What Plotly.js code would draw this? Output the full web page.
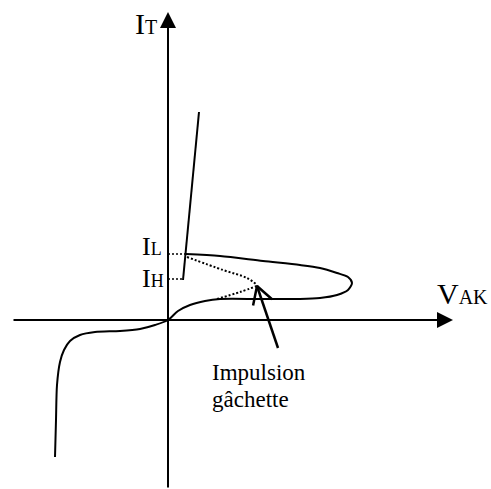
<!DOCTYPE html>
<html>
<head>
<meta charset="utf-8">
<script src="https://cdn.plot.ly/plotly-3.0.1.min.js"></script>
<style>
  html, body { margin: 0; padding: 0; background: #fff; }
  #chart { width: 491px; height: 489px; }
</style>
</head>
<body>
<div id="chart"></div>
<script>
// Thyristor static characteristic I_T = f(V_AK), schematic units (origin at axes crossing)

// Off-state branch: reverse blocking, forward blocking, then the latching loop back to I_L
const offStateX = [-113, -112, -111, -108, -104, -98, -88, -73, -48, -28, -13, 0, 10, 22, 37, 52, 92, 132, 152, 169, 180, 184, 180, 169, 152, 132, 95, 52, 18];
const offStateY = [-137, -100, -65, -42, -30, -21, -15, -12, -11, -9, -5, 0, 9, 15, 19, 21, 21, 21, 22, 25, 30, 37, 43, 47, 52, 55, 59, 64, 66];

// On-state (conducting) branch
const onStateX = [15, 31];
const onStateY = [40, 208];

// Latching and holding current levels
const latchLevelX = [0, 18];
const latchLevelY = [66, 66];
const holdLevelX = [0, 15];
const holdLevelY = [41, 41];

// Dotted transition paths meeting at the gate trigger point
const holdPathX = [19, 55, 79, 89];
const holdPathY = [63, 50, 42, 35];
const gatePathX = [49, 72, 89];
const gatePathY = [21, 28, 34];

// Gate pulse pointer: tip and tail
const pulseTip = [89, 34];
const pulseTail = [110, -28];

// Axis extents
const vAxisFrom = [0, -169], vAxisTo = [0, 308];
const hAxisFrom = [-156, 0], hAxisTo = [285, 0];

const ink = '#000';
const serif = 'Liberation Serif, Times New Roman, serif';

function line(x, y, opts) {
  return Object.assign({
    type: 'scatter', mode: 'lines', x: x, y: y, hoverinfo: 'skip',
    line: { color: ink, width: 2 }
  }, opts || {});
}

// Open V head for the pulse pointer, built from tip/tail direction
function openHead(tip, tail, len, angDeg) {
  const dx = tail[0] - tip[0], dy = tail[1] - tip[1];
  const n = Math.hypot(dx, dy), ux = dx / n, uy = dy / n;
  const a = angDeg * Math.PI / 180;
  const r = (s) => [ux * Math.cos(s * a) - uy * Math.sin(s * a), ux * Math.sin(s * a) + uy * Math.cos(s * a)];
  const p = r(1), m = r(-1);
  return {
    x: [tip[0] + p[0] * len, tip[0], tip[0] + m[0] * len],
    y: [tip[1] + p[1] * len, tip[1], tip[1] + m[1] * len]
  };
}
const head = openHead(pulseTip, pulseTail, 20, 30);

const traces = [
  line(offStateX, offStateY, { line: { color: ink, width: 2, shape: 'spline', smoothing: 0.8 } }),
  line(onStateX, onStateY),
  line(latchLevelX, latchLevelY, { line: { color: ink, width: 1.5, dash: '2px,2px' } }),
  line(holdLevelX, holdLevelY, { line: { color: ink, width: 1.5, dash: '2px,2px' } }),
  line(holdPathX, holdPathY, { line: { color: ink, width: 2, dash: '2px,2px', shape: 'spline' } }),
  line(gatePathX, gatePathY, { line: { color: ink, width: 2, dash: '2px,2px', shape: 'spline' } }),
  line([pulseTail[0], pulseTip[0]], [pulseTail[1], pulseTip[1]], { line: { color: ink, width: 2.5 } }),
  line(head.x, head.y, { line: { color: ink, width: 2.5 } })
];

function axisArrow(from, to) {
  return {
    x: to[0], y: to[1], ax: from[0], ay: from[1],
    xref: 'x', yref: 'y', axref: 'x', ayref: 'y',
    text: '', showarrow: true, arrowhead: 2, arrowsize: 1.6, arrowwidth: 2,
    arrowcolor: ink, standoff: 0, startstandoff: 0
  };
}

function label(txt, x, y, size) {
  return {
    x: x, y: y, xref: 'x', yref: 'y', text: txt, showarrow: false,
    xanchor: 'left', yanchor: 'middle', align: 'left',
    font: { family: serif, size: size, color: ink }
  };
}

const layout = {
  width: 491, height: 489,
  margin: { l: 0, r: 0, t: 0, b: 0 },
  paper_bgcolor: '#fff', plot_bgcolor: '#fff',
  showlegend: false,
  xaxis: { range: [-168, 323], visible: false, fixedrange: true },
  yaxis: { range: [-169, 320], visible: false, fixedrange: true },
  annotations: [
    axisArrow(vAxisFrom, vAxisTo),
    axisArrow(hAxisFrom, hAxisTo),
    label('I<span style="font-size:20px">T</span>', -35, 297, 30),
    label('V<span style="font-size:20px">AK</span>', 267, 27, 30),
    label('I<span style="font-size:18px">L</span>', -28, 74, 26),
    label('I<span style="font-size:18px">H</span>', -28, 42, 26),
    label('Impulsion', 42, -52, 23),
    label('gâchette', 42, -79, 23)
  ]
};

Plotly.newPlot('chart', traces, layout, { staticPlot: true, displayModeBar: false });
</script>
</body>
</html>
